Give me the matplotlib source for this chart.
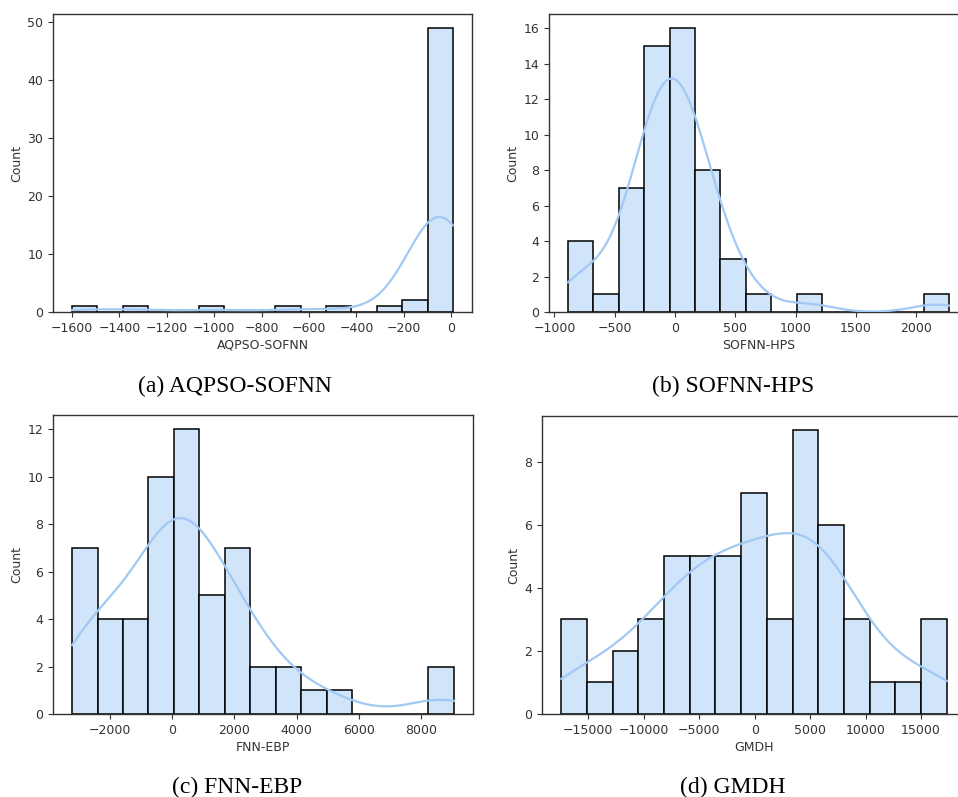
import numpy as np
import matplotlib
matplotlib.use("Agg")
import matplotlib.pyplot as plt
from matplotlib.ticker import MultipleLocator

# bin edges (first edge, last edge, 15 bins) and counts
names = ["AQPSO-SOFNN", "SOFNN-HPS", "FNN-EBP", "GMDH"]
captions = ["(a) AQPSO-SOFNN", "(b) SOFNN-HPS", "(c) FNN-EBP", "(d) GMDH"]

range_a = (-1600, 7)
range_b = (-887, 2270)
range_c = (-3203, 9040)
range_d = (-17430, 17310)

counts_a = [1, 0, 1, 0, 0, 1, 0, 0, 1, 0, 1, 0, 1, 2, 49]
counts_b = [4, 1, 7, 15, 16, 8, 3, 1, 0, 1, 0, 0, 0, 0, 1]
counts_c = [7, 4, 4, 10, 12, 5, 7, 2, 2, 1, 1, 0, 0, 0, 2]
counts_d = [3, 1, 2, 3, 5, 5, 5, 7, 3, 9, 6, 3, 1, 1, 3]

xstep = [200, 500, 2000, 5000]
ystep = [10, 2, 2, 2]

bar_face = "#d0e4fa"
kde_color = "#a1c9f4"

fig = plt.figure(figsize=(9.58, 7.97), dpi=100)

W, H = 958.0, 797.0
# axes boxes in pixels: left, top, width, height
boxes = [(53, 14, 419, 298), (549, 14, 419, 298),
         (53, 415, 420, 299), (542, 416, 424, 298)]
cap_pos = [(235, 392), (733, 392), (237, 793), (733, 793)]

ranges = [range_a, range_b, range_c, range_d]
counts = [counts_a, counts_b, counts_c, counts_d]

for i in range(4):
    l, t, w, h = boxes[i]
    ax = fig.add_axes([l / W, 1 - (t + h) / H, w / W, h / H])

    c = np.array(counts[i], dtype=float)
    edges = np.linspace(ranges[i][0], ranges[i][1], len(c) + 1)
    bw_bin = edges[1] - edges[0]
    ax.bar(edges[:-1], c, width=bw_bin, align="edge", color=bar_face,
           edgecolor="black", linewidth=1.1, zorder=2)

    # weighted gaussian kde of the bin centres, scaled to counts
    centers = (edges[:-1] + edges[1:]) / 2
    n = c.sum()
    mean = (c * centers).sum() / n
    std = np.sqrt((c * (centers - mean) ** 2).sum() / n)
    bw = std * n ** (-1 / 5)
    grid = np.linspace(edges[0], edges[-1], 400)
    dens = (c[None, :] * np.exp(-0.5 * ((grid[:, None] - centers[None, :]) / bw) ** 2)).sum(1)
    dens = dens / (n * bw * np.sqrt(2 * np.pi))
    ax.plot(grid, dens * n * bw_bin, color=kde_color, lw=1.6, zorder=3)

    ax.set_ylim(0, c.max() * 1.05)
    span = edges[-1] - edges[0]
    ax.set_xlim(edges[0] - 0.05 * span, edges[-1] + 0.05 * span)
    ax.xaxis.set_major_locator(MultipleLocator(xstep[i]))
    ax.yaxis.set_major_locator(MultipleLocator(ystep[i]))
    ax.tick_params(labelsize=9, colors="#333333", length=3.5)
    for s in ax.spines.values():
        s.set_color("#333333")
        s.set_linewidth(1.0)
    ax.set_xlabel(names[i], fontsize=9, color="#333333", labelpad=3)
    ax.set_ylabel("Count", fontsize=9, color="#333333", labelpad=3)

    fig.text(cap_pos[i][0] / W, 1 - cap_pos[i][1] / H, captions[i],
             ha="center", va="baseline", family="Liberation Serif", fontsize=17)

fig.savefig("out.png", dpi=100)
